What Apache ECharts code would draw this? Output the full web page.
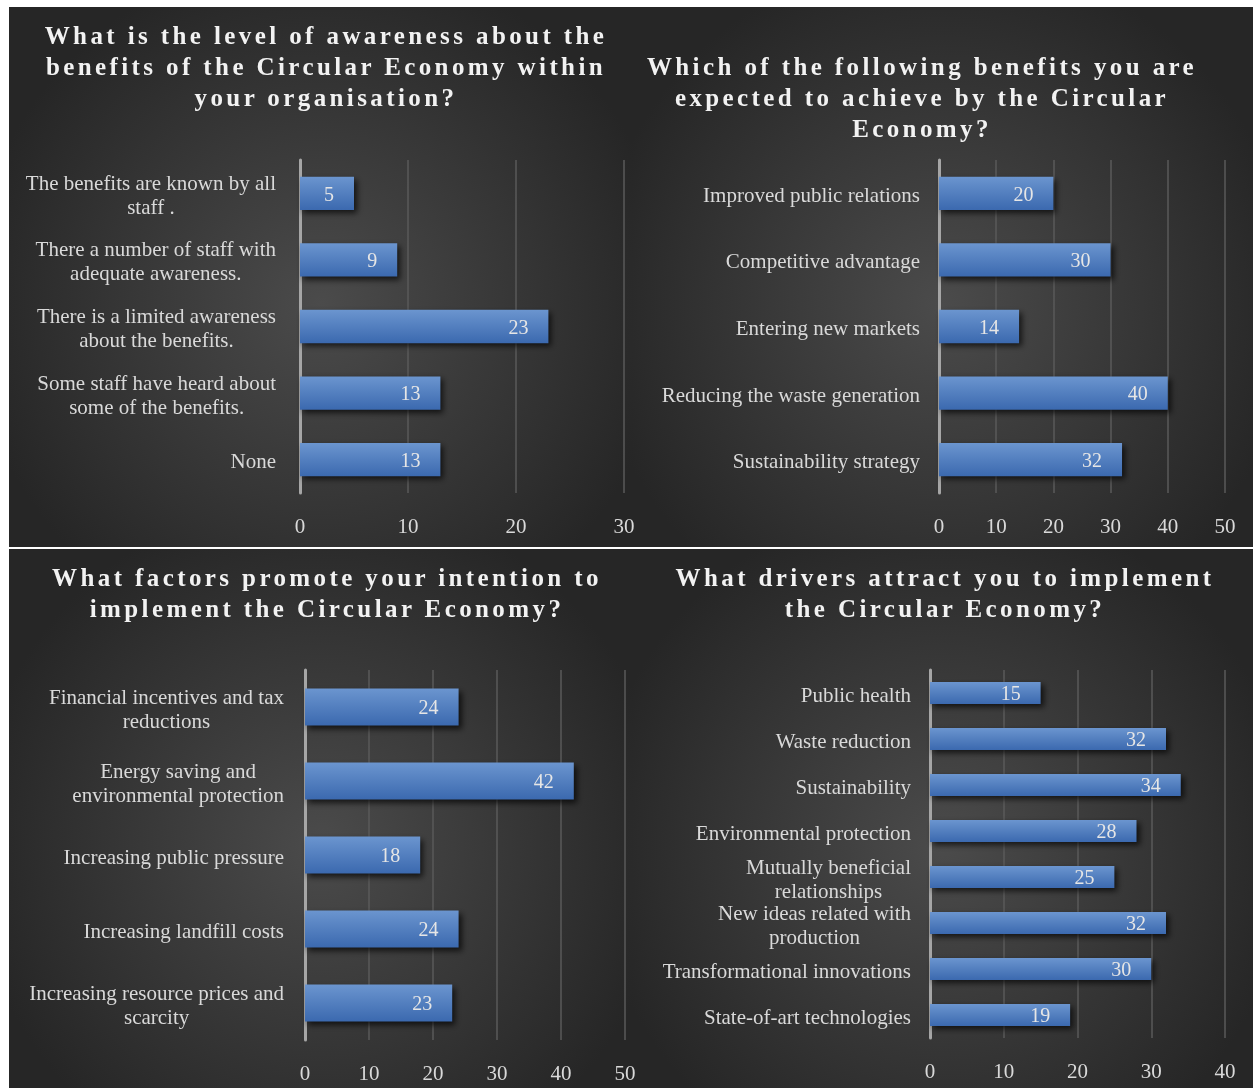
<!DOCTYPE html>
<html lang="en">
<head>
    <meta charset="UTF-8">
    <title>Circular Economy survey</title>
    <style>
        body { margin: 0; background: #fff; }
        #wrap { position: relative; width: 1253px; height: 1088px; }
        #main { position: absolute; left: 0; top: 0; width: 1253px; height: 1088px; }
        .ttl {
            position: absolute; text-align: center; color: #f2f2f2;
            font: bold 25px "Liberation Serif", serif; letter-spacing: 3.4px; line-height: 31px;
            white-space: nowrap;
        }
    </style>
</head>
<body>
<div id="wrap">
    <div id="main"></div>
    <div class="ttl" style="left:16px; width:620px; top:20px;">What is the level of awareness about the<br>benefits of the Circular Economy within<br>your organisation?</div>
    <div class="ttl" style="left:612px; width:620px; top:51px;">Which of the following benefits you are<br>expected to achieve by the Circular<br>Economy?</div>
    <div class="ttl" style="left:17px; width:620px; top:562px;">What factors promote your intention to<br>implement the Circular Economy?</div>
    <div class="ttl" style="left:635px; width:620px; top:562px;">What drivers attract you to implement<br>the Circular Economy?</div>
</div>

<script src="https://cdn.jsdelivr.net/npm/echarts@6/dist/echarts.min.js"></script>
<script>
    // panel 1 - awareness
    var awareCats = ['The benefits are known by all\nstaff .', 'There a number of staff with\nadequate awareness.',
        'There is a limited awareness\nabout the benefits.', 'Some staff have heard about\nsome of the benefits.', 'None'];
    var awareVals = [5, 9, 23, 13, 13];

    // panel 2 - expected benefits
    var benefitCats = ['Improved public relations', 'Competitive advantage', 'Entering new markets',
        'Reducing the waste generation', 'Sustainability strategy'];
    var benefitVals = [20, 30, 14, 40, 32];

    // panel 3 - promoting factors
    var factorCats = ['Financial incentives and tax\nreductions', 'Energy saving and\nenvironmental protection',
        'Increasing public pressure', 'Increasing landfill costs', 'Increasing resource prices and\nscarcity'];
    var factorVals = [24, 42, 18, 24, 23];

    // panel 4 - drivers
    var driverCats = ['Public health', 'Waste reduction', 'Sustainability', 'Environmental protection',
        'Mutually beneficial\nrelationships', 'New ideas related with\nproduction', 'Transformational innovations',
        'State-of-art technologies'];
    var driverVals = [15, 32, 34, 28, 25, 32, 30, 19];

    var axisMax = [30, 50, 50, 40];

    var myChart = echarts.init(document.getElementById('main'));

    var fontFam = '"Liberation Serif", "Times New Roman", serif';
    var grids = [
        {left: 300, top: 160, width: 324, height: 333},
        {left: 939, top: 160, width: 286, height: 333},
        {left: 305, top: 670, width: 320, height: 370},
        {left: 930, top: 670, width: 295, height: 368}
    ];
    var cats = [awareCats, benefitCats, factorCats, driverCats];
    var vals = [awareVals, benefitVals, factorVals, driverVals];
    var gaps = ['50%', '50%', '50%', '52%'];
    var catMargin = [24, 19, 21, 19];

    function bgRect(x, y, w, h) {
        return {
            type: 'rect', z: -100, silent: true,
            shape: {x: x, y: y, width: w, height: h},
            style: {
                fill: new echarts.graphic.RadialGradient(0.5, 0.55, 0.65, [
                    {offset: 0, color: '#4b4b4b'},
                    {offset: 1, color: '#262626'}
                ])
            }
        };
    }

    var xAxes = [], yAxes = [], series = [];
    for (var i = 0; i < 4; i++) {
        xAxes.push({
            type: 'value', gridIndex: i, min: 0, max: axisMax[i], interval: 10,
            axisLine: {show: false}, axisTick: {show: false},
            axisLabel: {color: '#d9d9d9', fontSize: 21, fontFamily: fontFam, margin: 24},
            splitLine: {lineStyle: {color: '#5a5a5a', width: 1.5}}
        });
        yAxes.push({
            type: 'category', gridIndex: i, data: cats[i], inverse: true,
            axisLine: {lineStyle: {color: '#a6a6a6', width: 3}},
            axisTick: {show: false},
            axisLabel: {
                margin: catMargin[i],
                padding: [6, 0, 0, 0],
                formatter: function (v) {
                    return v.split('\n').map(function (s) { return '{c|' + s + '}'; }).join('\n');
                },
                rich: {c: {align: 'center', color: '#d9d9d9', fontSize: 21, fontFamily: fontFam, lineHeight: 24}}
            }
        });
        series.push({
            type: 'bar', xAxisIndex: i, yAxisIndex: i, data: vals[i],
            barCategoryGap: gaps[i],
            itemStyle: {
                color: new echarts.graphic.LinearGradient(0, 0, 0, 1, [
                    {offset: 0, color: '#6b95cf'},
                    {offset: 1, color: '#3b69af'}
                ]),
                shadowColor: 'rgba(0,0,0,0.7)', shadowBlur: 6, shadowOffsetX: 3, shadowOffsetY: 3
            },
            label: {
                show: true, position: 'insideRight', distance: 20, offset: [0, 2],
                color: '#e6e6e6', fontSize: 20, fontFamily: fontFam
            }
        });
    }

    var option = {
        backgroundColor: '#ffffff',
        animation: false,
        graphic: [
            bgRect(9, 7, 623, 540),
            bgRect(632, 7, 621, 540),
            bgRect(9, 549, 623, 539),
            bgRect(632, 549, 621, 539)
        ],
        grid: grids,
        xAxis: xAxes,
        yAxis: yAxes,
        series: series
    };
    myChart.setOption(option);
</script>
</body>
</html>
